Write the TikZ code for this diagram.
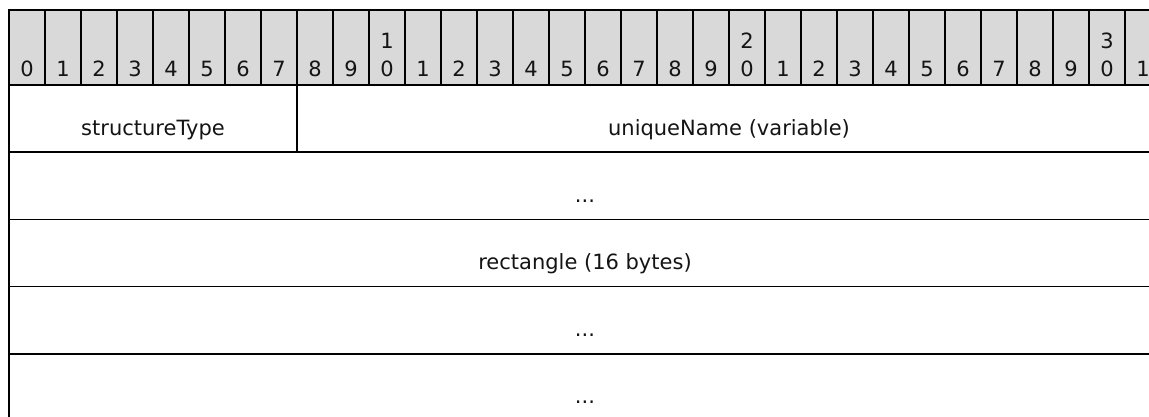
\documentclass[tikz,border=0pt]{standalone}
\usepackage{fontspec}
\setmainfont{DejaVu Sans}
\definecolor{hdrgray}{RGB}{217,217,217}
\definecolor{txt}{RGB}{20,20,20}
\begin{document}
\begin{tikzpicture}[x=1pt,y=-1pt, line width=1.7pt,
  cell/.style={draw=black, fill=hdrgray},
  fieldbox/.style={draw=black},
  digit/.style={anchor=base, font=\fontsize{21}{25}\selectfont, inner sep=0pt, text=txt},
  fieldtext/.style={anchor=base, font=\fontsize{21}{25}\selectfont, inner sep=0pt, text=txt}]
\path[use as bounding box, clip] (0,0) rectangle (1149,416);
% header cells
\foreach \i in {0,...,31}{
  \draw[cell] ({9+36*\i},10) rectangle ({45+36*\i},85);
  \pgfmathtruncatemacro{\u}{mod(\i,10)}
  \pgfmathtruncatemacro{\t}{div(\i,10)}
  \node[digit] (h\i) at ({27+36*\i},76) {\u};
  \ifnum\u=0 \ifnum\i>0
    \node[digit] (ht\i) at ({27+36*\i},48) {\t};
  \fi\fi
}
% field boxes
\draw[fieldbox] (9,85) rectangle (297,152.2);
\draw[fieldbox] (297,85) rectangle (1161,152.2);
\draw[fieldbox] (9,152.2) rectangle (1161,219.4);
\draw[fieldbox] (9,219.4) rectangle (1161,286.6);
\draw[fieldbox] (9,286.6) rectangle (1161,353.8);
\draw[fieldbox] (9,353.8) rectangle (1161,421);
% field texts
\node[fieldtext] (f1) at (153,135.5) {structureType};
\node[fieldtext] (f2) at (729,135.5) {uniqueName (variable)};
\node[fieldtext] (f3) at (585,202.7) {...};
\node[fieldtext] (f4) at (585,269.4) {rectangle (16 bytes)};
\node[fieldtext] (f5) at (585,336.6) {...};
\node[fieldtext] (f6) at (585,403.8) {...};
\end{tikzpicture}
\end{document}
